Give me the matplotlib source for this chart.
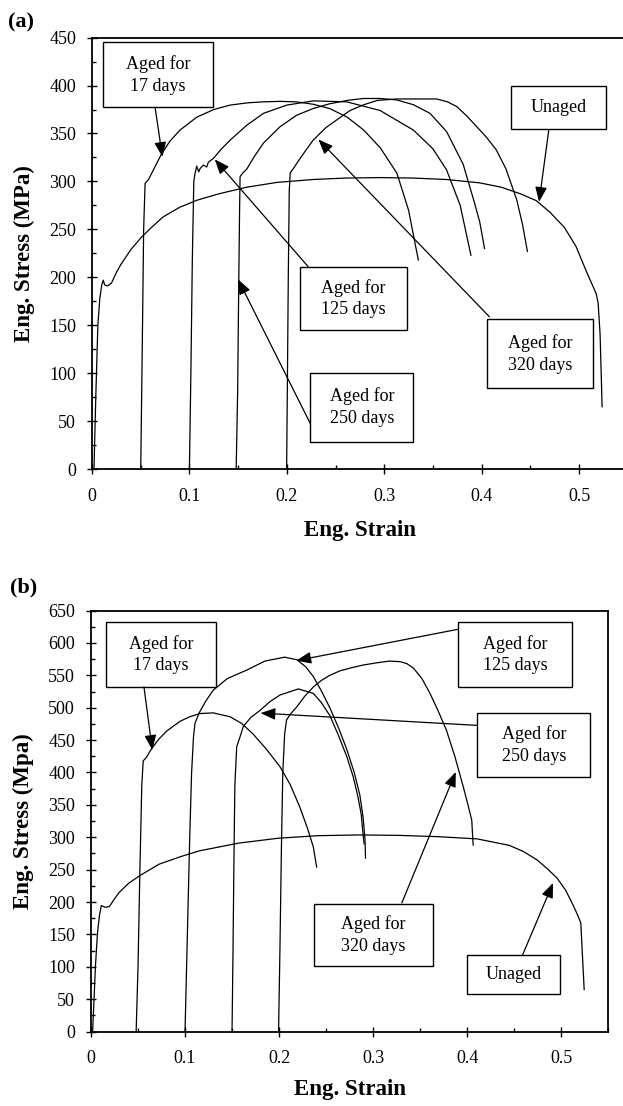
import matplotlib
matplotlib.use('Agg')
import matplotlib.pyplot as plt
from matplotlib.patches import Rectangle
from matplotlib.ticker import MultipleLocator, FormatStrFormatter

plt.rcParams['font.family'] = ['Liberation Serif', 'DejaVu Serif']

# ---- data, panel (a) ----
a_unaged_x = [0.002, 0.004, 0.006, 0.008, 0.010, 0.0115, 0.013, 0.016, 0.020, 0.025, 0.030, 0.040,
              0.050, 0.060, 0.073, 0.090, 0.108, 0.130, 0.159, 0.190, 0.227, 0.260, 0.296, 0.330,
              0.364, 0.398, 0.420, 0.440, 0.456, 0.470, 0.485, 0.497, 0.508, 0.5176, 0.5196, 0.5216, 0.5237]
a_unaged_y = [0, 80, 150, 178, 192, 197, 192, 191, 194, 205, 214, 229,
              241, 251, 263, 273, 280.5, 287, 294, 299, 302, 303.5, 304, 303.5,
              302, 298.5, 294, 287, 280, 268, 252, 232, 205, 183, 173, 141, 65]

a_d17_x = [0.0500, 0.0515, 0.0530, 0.0545, 0.058, 0.063, 0.0715, 0.080, 0.0903, 0.1075, 0.125, 0.1417,
           0.160, 0.176, 0.193, 0.210, 0.227, 0.244, 0.262, 0.279, 0.296, 0.313, 0.325, 0.335]
a_d17_y = [0, 120, 250, 298, 302, 312, 329, 342, 353.5, 367, 375, 379.6,
           382, 383, 383.5, 383, 380.5, 376, 367, 353.5, 335, 308.6, 270, 218]

a_d125_x = [0.1000, 0.1015, 0.1030, 0.1045, 0.1057, 0.1075, 0.1095, 0.111, 0.1143, 0.1178, 0.1194, 0.1246,
            0.1330, 0.1417, 0.159, 0.176, 0.200, 0.227, 0.2615, 0.2957, 0.330, 0.350, 0.364, 0.378, 0.389]
a_d125_y = [0, 100, 220, 300, 308, 316, 310, 313.5, 317, 315, 320, 324,
            334, 343, 358.7, 371, 379.6, 384, 383, 374, 353.5, 334, 312, 275, 223]

a_d250_x = [0.148, 0.1495, 0.1505, 0.1515, 0.152, 0.155, 0.159, 0.166, 0.176, 0.193, 0.210, 0.227,
            0.244, 0.262, 0.2786, 0.296, 0.3128, 0.330, 0.347, 0.364, 0.381, 0.392, 0.398, 0.403]
a_d250_y = [0, 80, 180, 270, 305, 309, 313, 325, 340, 357, 369, 376,
            381, 384.5, 386.5, 386.5, 385, 380, 371, 352, 318, 280, 258, 230]

a_d320_x = [0.1998, 0.2005, 0.2015, 0.2025, 0.2035, 0.2067, 0.215, 0.227, 0.240, 0.251, 0.265, 0.279,
            0.293, 0.3128, 0.335, 0.354, 0.365, 0.3746, 0.385, 0.395, 0.405, 0.415, 0.425, 0.436, 0.442, 0.447]
a_d320_y = [0, 80, 200, 290, 309, 313.5, 326, 343, 356, 364, 374, 380,
            384.5, 386, 386, 386, 383, 378, 368, 357, 346, 333, 313, 281, 255, 227]

# ---- data, panel (b) ----
b_unaged_x = [0.0017, 0.0047, 0.0068, 0.009, 0.011, 0.0152, 0.0195, 0.025, 0.030, 0.040, 0.051, 0.0724,
              0.095, 0.115, 0.157, 0.1994, 0.2417, 0.284, 0.3264, 0.3688, 0.411, 0.445, 0.460, 0.4746,
              0.485, 0.4958, 0.505, 0.5127, 0.517, 0.521, 0.5246]
b_unaged_y = [0, 101, 151, 180, 194.6, 192, 193, 205, 215, 229, 240, 258.5,
              270, 279, 291, 298.6, 302.5, 303.6, 303, 301, 297.5, 287.5, 278, 265,
              252, 237, 218, 195.7, 182, 168, 65]

b_d17_x = [0.048, 0.050, 0.052, 0.054, 0.0555, 0.0575, 0.0592, 0.0645, 0.0725, 0.0805, 0.0947, 0.105,
           0.116, 0.130, 0.148, 0.160, 0.172, 0.186, 0.201, 0.212, 0.222, 0.230, 0.2365, 0.240]
b_d17_y = [0, 100, 250, 380, 418, 421, 424, 437, 452, 464, 479, 486,
           491, 492, 486, 476, 460, 437, 409, 381, 347, 315, 285, 254]

b_d125_x = [0.100, 0.1025, 0.105, 0.107, 0.109, 0.1106, 0.115, 0.122, 0.130, 0.145, 0.1656, 0.185,
            0.206, 0.219, 0.2285, 0.2365, 0.245, 0.254, 0.263, 0.272, 0.280, 0.286, 0.2895, 0.2915, 0.292]
b_d125_y = [0, 150, 300, 400, 455, 476, 492, 510, 527, 545, 558, 572,
            578, 574, 563, 548, 526, 500, 470, 436, 400, 365, 330, 295, 268]

b_d250_x = [0.150, 0.151, 0.152, 0.153, 0.155, 0.1585, 0.162, 0.170, 0.180, 0.190, 0.201, 0.2206,
            0.2365, 0.245, 0.254, 0.263, 0.272, 0.279, 0.284, 0.2875, 0.289, 0.2905]
b_d250_y = [0, 120, 260, 380, 440, 455, 471, 485, 496, 509, 519.6, 529,
            522, 508, 488, 458, 425, 393, 362, 335, 310, 290]

b_d320_x = [0.1995, 0.201, 0.2025, 0.204, 0.206, 0.208, 0.212, 0.219, 0.2275, 0.2365, 0.245, 0.254,
            0.265, 0.278, 0.290, 0.305, 0.318, 0.329, 0.336, 0.343, 0.352, 0.3606, 0.369, 0.378,
            0.387, 0.396, 0.401, 0.405, 0.4065]
b_d320_y = [0, 130, 280, 400, 460, 481, 490, 501.5, 518, 532, 542, 550,
            557, 562, 566, 569.5, 572, 571, 568, 561, 545, 522, 496, 465.6,
            425, 378, 350, 326.7, 288]

# ---- annotation layout: text, box (x0, y0, x1, y1), arrow tail, arrow head ----
a_notes = [
    ('Aged for\n17 days', (0.011, 377.2, 0.124, 444.9), (0.0647, 377.5), (0.0723, 325.6)),
    ('Unaged', (0.430, 354.2, 0.528, 399.4), (0.469, 354.2), (0.459, 278.7)),
    ('Aged for\n125 days', (0.214, 145.0, 0.323, 211.0), (0.222, 211.0), (0.126, 323.0)),
    ('Aged for\n250 days', (0.224, 28.5, 0.330, 100.4), (0.224, 47.7), (0.150, 197.8)),
    ('Aged for\n320 days', (0.406, 84.2, 0.514, 156.1), (0.408, 158.8), (0.2324, 343.8)),
]
b_notes = [
    ('Aged for\n17 days', (0.016, 532.3, 0.1333, 631.6), (0.0563, 532.3), (0.0652, 434.9)),
    ('Aged for\n125 days', (0.3907, 532.3, 0.5114, 631.6), (0.3907, 621.1), (0.2184, 572.7)),
    ('Aged for\n250 days', (0.411, 393.2, 0.531, 492.1), (0.411, 472.7), (0.1803, 491.7)),
    ('Aged for\n320 days', (0.2374, 101.5, 0.3636, 197.1), (0.3306, 198.6), (0.388, 400.8)),
    ('Unaged', (0.3997, 58.2, 0.4991, 118.2), (0.459, 118.2), (0.4915, 229.5)),
]

fig = plt.figure(figsize=(6.23, 11.06), dpi=100)
ax_a = fig.add_axes([0.1477, 0.5759, 0.8599, 0.3901])
ax_b = fig.add_axes([0.1461, 0.0672, 0.8299, 0.3808])


def style_axes(ax, ymax, ylabel, xlab_y, ylab_x):
    ax.set_xlim(0, 0.55)
    ax.set_ylim(0, ymax)
    ax.xaxis.set_major_locator(MultipleLocator(0.1))
    ax.xaxis.set_minor_locator(MultipleLocator(0.05))
    ax.yaxis.set_major_locator(MultipleLocator(50))
    ax.yaxis.set_minor_locator(MultipleLocator(25))
    ax.xaxis.set_major_formatter(FormatStrFormatter('%g'))
    ax.tick_params(which='major', direction='inout', length=7, width=1.0, labelsize=13)
    ax.tick_params(which='minor', direction='in', length=3, width=1.0)
    ax.tick_params(axis='y', which='major', pad=8)
    ax.tick_params(axis='x', which='major', pad=10)
    for s in ax.spines.values():
        s.set_linewidth(1.3)
    ax.set_xlabel('Eng. Strain', fontsize=16.5, fontweight='bold')
    ax.set_ylabel(ylabel, fontsize=16.5, fontweight='bold')
    ax.xaxis.set_label_coords(0.5, xlab_y)
    ax.xaxis.label.set_va('center')
    ax.yaxis.set_label_coords(ylab_x, 0.5)
    ax.yaxis.label.set_va('center')


def draw_notes(ax, notes):
    for text, (x0, y0, x1, y1), tail, head in notes:
        ax.add_patch(Rectangle((x0, y0), x1 - x0, y1 - y0, facecolor='white',
                               edgecolor='black', linewidth=1.0, zorder=3))
        ax.text((x0 + x1) / 2, (y0 + y1) / 2, text, ha='center', va='center',
                fontsize=13, linespacing=1.35, zorder=4)
        ax.annotate('', xy=head, xytext=tail, zorder=5,
                    arrowprops=dict(arrowstyle='-|>,head_length=0.75,head_width=0.3',
                                    mutation_scale=12, color='black', lw=0.9,
                                    shrinkA=0, shrinkB=0))


# panel (a)
for xs, ys in [(a_unaged_x, a_unaged_y), (a_d17_x, a_d17_y), (a_d125_x, a_d125_y),
               (a_d250_x, a_d250_y), (a_d320_x, a_d320_y)]:
    ax_a.plot(xs, ys, color='black', linewidth=0.9)
style_axes(ax_a, 450, 'Eng. Stress (MPa)', -0.1414, -0.127)
draw_notes(ax_a, a_notes)

# panel (b)
for xs, ys in [(b_unaged_x, b_unaged_y), (b_d17_x, b_d17_y), (b_d125_x, b_d125_y),
               (b_d250_x, b_d250_y), (b_d320_x, b_d320_y)]:
    ax_b.plot(xs, ys, color='black', linewidth=0.9)
style_axes(ax_b, 650, 'Eng. Stress (Mpa)', -0.1384, -0.1315)
draw_notes(ax_b, b_notes)

fig.text(0.013, 0.980, '(a)', fontsize=16, fontweight='bold', ha='left', va='center')
fig.text(0.016, 0.4684, '(b)', fontsize=16, fontweight='bold', ha='left', va='center')

fig.savefig('out.png', dpi=100)
